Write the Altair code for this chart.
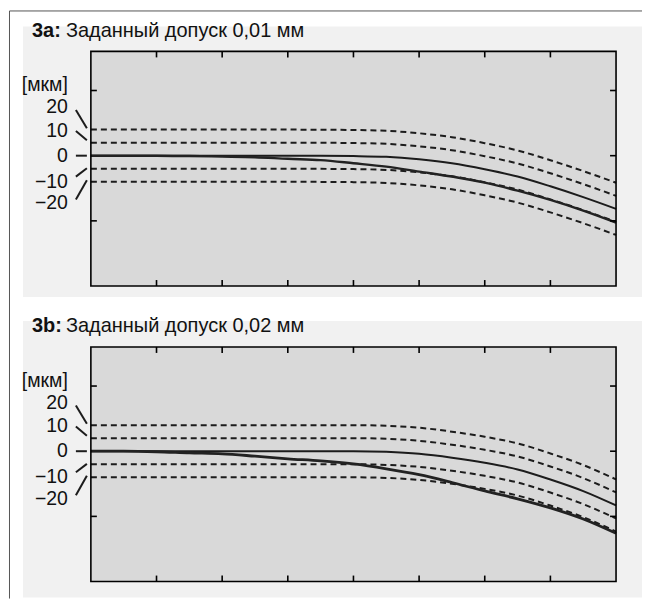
import altair as alt
import pandas as pd

# ---- data ----
x_pos = [0, 0.5, 1, 1.5, 2, 2.5, 3, 3.5, 4, 4.5, 5, 5.5, 6, 6.5, 7, 7.5, 8]
nominal_a = [0, 0, 0, 0, 0, 0, 0, -0.1, -0.3, -0.9, -2.8, -5.8, -10.4, -16.0, -23.5, -31.8, -40.8]
measured_a = [0, 0, 0, -0.3, -0.7, -1.2, -2.4, -3.4, -5.8, -8.4, -12.2, -16.0, -20.7, -26.8, -33.9, -42.1, -51.3]
nominal_b = [0, 0, 0, 0, 0, 0, 0, 0, 0, -0.5, -2.0, -5.0, -8.9, -14.0, -21.7, -30.6, -41.6]
measured_b = [0, 0, -0.4, -1.3, -2.0, -3.8, -5.8, -7.4, -9.8, -13.5, -18.0, -24.0, -30.5, -36.5, -43.5, -52.0, -63.0]
band_offsets = [20, 10, -10, -20]

panel_codes = ["3a:", "3b:"]
panel_titles = ["Заданный допуск 0,01 мм", "Заданный допуск 0,02 мм"]

label_texts = ["[мкм]", "20", "10", "0", "−10", "−20"]
label_y = [54, 37.3, 19.1, 0, -19.9, -36.5]
conn_y1 = [35, 18.9, 0, -16.1, -33.7]
conn_y2 = [21, 11.9, 0, -9.7, -18.9]

x_ticks = [1, 2, 3, 4, 5, 6, 7]
y_ticks_left = [50, -50]
y_ticks_right = [50, 0, -50]

W, H = 526, 235
FONT = "Liberation Sans"
INK = "#1c1c1c"

xs = alt.Scale(domain=[0, 8], nice=False, zero=False)
ys = alt.Scale(domain=[-100, 80], nice=False, zero=False)


def panel(code, title, nominal, measured, bg_top, bg_bottom, with_frame, meas_width):
    curves = pd.DataFrame({"x": x_pos, "nominal": nominal, "measured": measured})
    bands = pd.DataFrame(
        [{"x": x, "band": off, "v": n + off} for off in band_offsets for x, n in zip(x_pos, nominal)]
    )
    labels = pd.DataFrame({"t": label_texts, "y": label_y})
    conns = pd.DataFrame({"y1": conn_y1, "y2": conn_y2})
    xt = pd.DataFrame({"x": x_ticks})
    ytl = pd.DataFrame({"y": y_ticks_left})
    ytr = pd.DataFrame({"y": y_ticks_right})
    one = alt.Data(values=[{}])

    X = alt.X("x:Q", scale=xs, axis=None)
    layers = []
    if with_frame:
        layers.append(alt.Chart(one).mark_rule(color="#555555", strokeWidth=1).encode(
            x=alt.value(-81.5), x2=alt.value(-81.5), y=alt.value(-40.5), y2=alt.value(548)))
        layers.append(alt.Chart(one).mark_rule(color="#555555", strokeWidth=1).encode(
            x=alt.value(-81.5), x2=alt.value(552), y=alt.value(-40.5), y2=alt.value(-40.5)))
    layers.append(alt.Chart(one).mark_rect(color="#f1f1f1").encode(
        x=alt.value(-68), x2=alt.value(552), y=alt.value(bg_top), y2=alt.value(bg_bottom)))
    layers.append(alt.Chart(one).mark_rect(color="#d9d9d9").encode(
        x=alt.value(0), x2=alt.value(W), y=alt.value(0), y2=alt.value(H)))
    layers.append(alt.Chart(bands).mark_line(
        color=INK, strokeWidth=2.0, strokeDash=[6, 4], interpolate="monotone").encode(
        X, alt.Y("v:Q", scale=ys, axis=None), detail="band:N"))
    layers.append(alt.Chart(curves).mark_line(
        color=INK, strokeWidth=2.0, interpolate="monotone").encode(
        X, alt.Y("nominal:Q", scale=ys, axis=None)))
    layers.append(alt.Chart(curves).mark_line(
        color="#222222", strokeWidth=meas_width, interpolate="monotone").encode(
        X, alt.Y("measured:Q", scale=ys, axis=None)))
    layers.append(alt.Chart(one).mark_rect(filled=False, stroke="black", strokeWidth=1.6).encode(
        x=alt.value(0), x2=alt.value(W), y=alt.value(0), y2=alt.value(H)))
    layers.append(alt.Chart(xt).mark_rule(color="black", strokeWidth=1.6).encode(
        X, y=alt.value(0), y2=alt.value(6)))
    layers.append(alt.Chart(xt).mark_rule(color="black", strokeWidth=1.6).encode(
        X, y=alt.value(H - 6), y2=alt.value(H)))
    layers.append(alt.Chart(ytl).mark_rule(color="black", strokeWidth=1.6).encode(
        alt.Y("y:Q", scale=ys, axis=None), x=alt.value(0), x2=alt.value(6)))
    layers.append(alt.Chart(ytr).mark_rule(color="black", strokeWidth=1.6).encode(
        alt.Y("y:Q", scale=ys, axis=None), x=alt.value(W - 6), x2=alt.value(W)))
    layers.append(alt.Chart(conns).mark_rule(color=INK, strokeWidth=2).encode(
        alt.Y("y1:Q", scale=ys, axis=None), alt.Y2("y2:Q"), x=alt.value(-15), x2=alt.value(-4)))
    layers.append(alt.Chart(labels).mark_text(
        align="right", baseline="middle", font=FONT, fontSize=19.5, color="#111111").encode(
        alt.Y("y:Q", scale=ys, axis=None), text="t:N", x=alt.value(-23)))
    layers.append(alt.Chart(one).mark_text(
        align="left", baseline="alphabetic", font=FONT, fontSize=20, fontWeight="bold",
        color="#111111", text=code).encode(x=alt.value(-59), y=alt.value(-14.5)))
    layers.append(alt.Chart(one).mark_text(
        align="left", baseline="alphabetic", font=FONT, fontSize=20,
        color="#111111", text=title).encode(x=alt.value(-25), y=alt.value(-14.5)))
    return alt.layer(*layers).properties(width=W, height=H)


pa = panel(panel_codes[0], panel_titles[0], nominal_a, measured_a, -25, 246, True, 2.4)
pb = panel(panel_codes[1], panel_titles[1], nominal_b, measured_b, -26, 251, False, 2.8)

chart = alt.vconcat(pa, pb, spacing=61, bounds="flush").properties(
    padding={"left": 1, "top": 2, "right": 0, "bottom": 0},
    background="white",
).configure_view(stroke=None)

chart.save("out.html", embed_options={"renderer": "svg", "actions": False})
